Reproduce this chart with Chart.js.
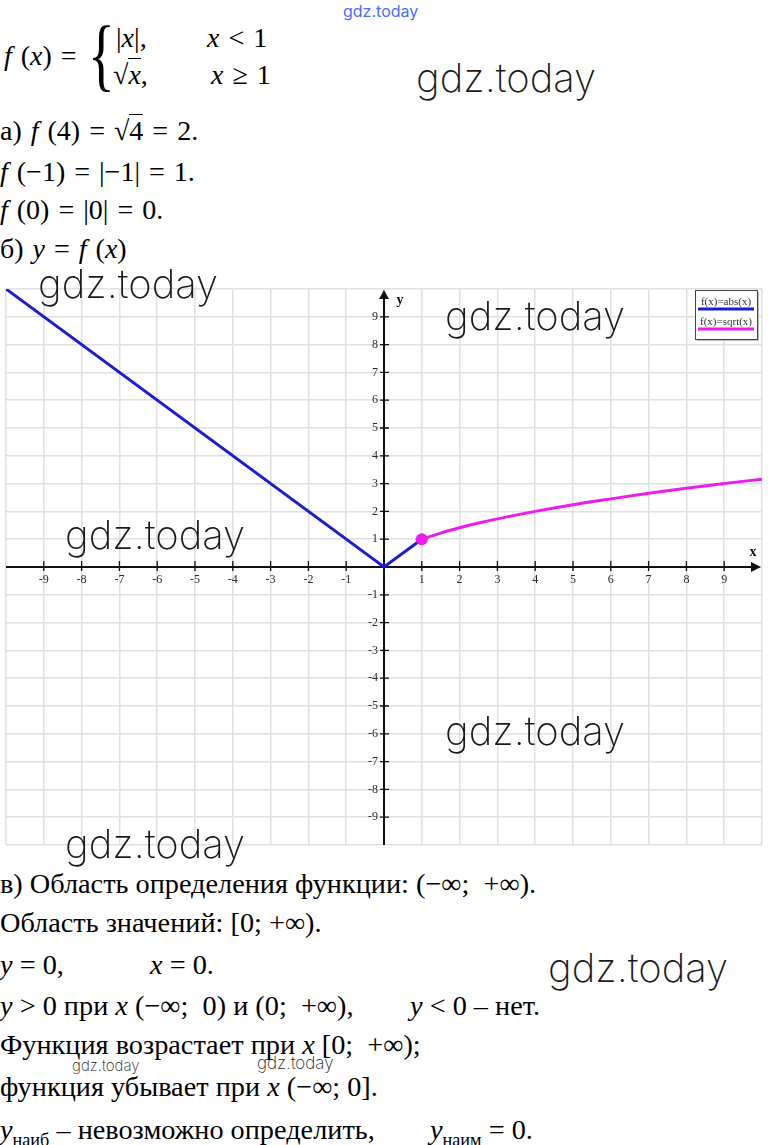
<!DOCTYPE html>
<html>
<head>
<meta charset="utf-8">
<script src="https://cdn.jsdelivr.net/npm/chart.js@4"></script>
<style>
  html, body { margin: 0; padding: 0; background: #fff; }
  body { width: 768px; height: 1145px; position: relative; overflow: hidden; }
  .m { position: absolute; font-family: "Liberation Serif", "Times New Roman", serif; font-size: 28px; line-height: 28px; white-space: pre; color: #000; word-spacing: 2px; }
  .b { position: absolute; font-family: "Liberation Serif", "Times New Roman", serif; font-size: 28px; line-height: 28px; white-space: pre; color: #000; transform-origin: 0 0; transform: scaleX(1.01); }
  .wm { position: absolute; font-family: Inter, Lato, "DejaVu Sans", sans-serif; font-weight: 200; font-size: 40px; line-height: 40px; color: #1a1a1a; white-space: pre; }
  .rt { border-top: 1.5px solid #000; }
  i { font-style: italic; }
  #wrap { position: absolute; left: 0; top: 283px; width: 768px; height: 568px; }
</style>
</head>
<body>

<div class="wm" style="left:343px;top:3px;font-size:16px;line-height:16px;color:#4a6cff;font-weight:400">gdz.today</div>

<div class="m" style="left:4px;top:42px"><i>f</i> (<i>x</i>) =</div>
<div class="m" style="left:88px;top:14px;font-size:80px;line-height:80px;transform:scaleX(0.7);transform-origin:0 0">{</div>
<div class="m" style="left:116px;top:24px">|<i>x</i>|,</div>
<div class="m" style="left:207px;top:24px"><i>x</i> &lt; 1</div>
<div class="m" style="left:113px;top:61px">√<span class="rt"><i>x</i></span>,</div>
<div class="m" style="left:211px;top:61px"><i>x</i> ≥ 1</div>

<div class="m" style="left:0px;top:117px">а) <i>f</i> (4) = √<span class="rt">4</span> = 2.</div>
<div class="m" style="left:0px;top:158px"><i>f</i> (−1) = |−1| = 1.</div>
<div class="m" style="left:0px;top:196px"><i>f</i> (0) = |0| = 0.</div>
<div class="m" style="left:0px;top:235px">б) <i>y</i> = <i>f</i> (<i>x</i>)</div>

<div id="wrap"><canvas id="graphChart" width="768" height="568"></canvas></div>

<div class="b" style="left:0px;top:870px">в) Область определения функции: (−∞;  +∞).</div>
<div class="b" style="left:0px;top:909px">Область значений: [0; +∞).</div>
<div class="b" style="left:0px;top:951px"><i>y</i> = 0,</div>
<div class="b" style="left:150px;top:951px"><i>x</i> = 0.</div>
<div class="b" style="left:0px;top:992px"><i>y</i> &gt; 0 при <i>x</i> (−∞;  0) и (0;  +∞),</div>
<div class="b" style="left:410px;top:992px"><i>y</i> &lt; 0 – нет.</div>
<div class="b" style="left:0px;top:1031px">Функция возрастает при <i>x</i> [0;  +∞);</div>
<div class="b" style="left:0px;top:1073px">функция убывает при <i>x</i> (−∞; 0].</div>
<div class="b" style="left:0px;top:1116px"><i>y</i><sub style="font-size:18px;line-height:0">наиб</sub> – невозможно определить,</div>
<div class="b" style="left:430px;top:1116px"><i>y</i><sub style="font-size:18px;line-height:0">наим</sub> = 0.</div>

<div class="wm" style="left:416px;top:58px">gdz.today</div>
<div class="wm" style="left:38px;top:264px">gdz.today</div>
<div class="wm" style="left:445px;top:296px">gdz.today</div>
<div class="wm" style="left:65px;top:515px">gdz.today</div>
<div class="wm" style="left:445px;top:711px">gdz.today</div>
<div class="wm" style="left:65px;top:824px">gdz.today</div>
<div class="wm" style="left:548px;top:948px">gdz.today</div>
<div class="wm" style="left:72px;top:1058px;font-size:15px;line-height:15px">gdz.today</div>
<div class="wm" style="left:257px;top:1055px;font-size:17px;line-height:17px">gdz.today</div>

<script>
// f(x) = |x| for x < 1, sqrt(x) for x >= 1
const absX = [-10, 0, 1];
const absY = [10, 0, 1];
const sqrtX = [1, 1.5, 2, 2.5, 3, 4, 5, 6, 7, 8, 9, 10];
const sqrtY = [1, 1.22, 1.41, 1.58, 1.73, 2, 2.24, 2.45, 2.65, 2.83, 3, 3.16];
const xTickVals = [-9, -8, -7, -6, -5, -4, -3, -2, -1, 1, 2, 3, 4, 5, 6, 7, 8, 9];
const yTickVals = [-9, -8, -7, -6, -5, -4, -3, -2, -1, 1, 2, 3, 4, 5, 6, 7, 8, 9];
const seriesNames = ['f(x)=abs(x)', 'f(x)=sqrt(x)'];

const toPoints = (xs, ys) => xs.map((v, i) => ({ x: v, y: ys[i] }));

// axes through the origin, drawn with the chart's own scales
const axesPlugin = {
    id: 'centerAxes',
    beforeDatasetsDraw(chart) {
        const { ctx, chartArea: a } = chart;
        const sx = chart.scales.x, sy = chart.scales.y;
        const x0 = sx.getPixelForValue(0), y0 = sy.getPixelForValue(0);
        ctx.save();
        ctx.strokeStyle = '#111';
        ctx.fillStyle = '#111';
        ctx.lineWidth = 2;
        ctx.beginPath();
        ctx.moveTo(a.left, y0); ctx.lineTo(a.right - 4, y0);
        ctx.moveTo(x0, a.bottom); ctx.lineTo(x0, a.top + 4);
        ctx.stroke();
        // arrows
        ctx.beginPath();
        ctx.moveTo(a.right - 1, y0); ctx.lineTo(a.right - 11, y0 - 5); ctx.lineTo(a.right - 11, y0 + 5);
        ctx.closePath(); ctx.fill();
        ctx.beginPath();
        ctx.moveTo(x0, a.top + 1); ctx.lineTo(x0 - 5, a.top + 10); ctx.lineTo(x0 + 5, a.top + 10);
        ctx.closePath(); ctx.fill();
        // tick marks
        ctx.lineWidth = 1.3;
        ctx.beginPath();
        xTickVals.forEach(v => {
            const px = sx.getPixelForValue(v);
            ctx.moveTo(px, y0 - 6); ctx.lineTo(px, y0 + 4);
        });
        yTickVals.forEach(v => {
            const py = sy.getPixelForValue(v);
            ctx.moveTo(x0 - 4, py); ctx.lineTo(x0 + 5, py);
        });
        ctx.stroke();
        // tick labels
        ctx.fillStyle = '#2a2a2a';
        ctx.font = '12px "Liberation Serif"';
        ctx.textAlign = 'center';
        ctx.textBaseline = 'middle';
        xTickVals.forEach(v => ctx.fillText(String(v), sx.getPixelForValue(v), y0 + 13));
        ctx.textAlign = 'right';
        yTickVals.forEach(v => ctx.fillText(String(v), x0 - 6, sy.getPixelForValue(v)));
        // axis names
        ctx.fillStyle = '#111';
        ctx.font = 'bold 14px "Liberation Serif"';
        ctx.textAlign = 'center';
        ctx.fillText('x', a.right - 9, y0 - 15);
        ctx.fillText('y', x0 + 16, a.top + 11);
        ctx.restore();
    },
    afterDraw(chart) {
        const { ctx, chartArea: a } = chart;
        const ds = chart.data.datasets;
        const bx = a.right - 67, by = a.top + 1, bw = 62, bh = 49;
        ctx.save();
        ctx.fillStyle = '#bbb';
        ctx.fillRect(bx + 2, by + 2, bw, bh);
        ctx.fillStyle = '#fff';
        ctx.fillRect(bx, by, bw, bh);
        ctx.strokeStyle = '#444';
        ctx.lineWidth = 1;
        ctx.strokeRect(bx + 0.5, by + 0.5, bw, bh);
        ctx.font = '11px "Liberation Serif"';
        ctx.textAlign = 'center';
        ctx.textBaseline = 'middle';
        ds.forEach((d, i) => {
            const ty = by + 12 + i * 20;
            ctx.fillStyle = '#333';
            ctx.fillText(d.label, bx + bw / 2, ty);
            ctx.strokeStyle = d.borderColor;
            ctx.lineWidth = 3;
            ctx.beginPath();
            ctx.moveTo(bx + 3, ty + 7); ctx.lineTo(bx + bw - 3, ty + 7);
            ctx.stroke();
        });
        ctx.restore();
    }
};

const ctx = document.getElementById('graphChart').getContext('2d');

const graphChart = new Chart(ctx, {
    type: 'line',
    data: {
        datasets: [{
            label: seriesNames[0],
            data: toPoints(absX, absY),
            borderColor: '#1c1cd4',
            borderWidth: 3,
            pointRadius: 0,
            tension: 0,
            order: 2
        }, {
            label: seriesNames[1],
            data: toPoints(sqrtX, sqrtY),
            borderColor: '#ec1cec',
            backgroundColor: '#ec1cec',
            borderWidth: 3,
            pointRadius: c => c.dataIndex === 0 ? 6 : 0,
            pointBorderWidth: 0,
            cubicInterpolationMode: 'monotone',
            order: 1
        }]
    },
    options: {
        responsive: false,
        animation: false,
        layout: { padding: 0 },
        plugins: {
            legend: { display: false },
            tooltip: { enabled: false }
        },
        scales: {
            x: {
                type: 'linear',
                min: -10,
                max: 10,
                ticks: { display: false, stepSize: 1 },
                grid: { color: '#e0e0e0', lineWidth: 1.5, drawTicks: false },
                border: { display: false }
            },
            y: {
                type: 'linear',
                min: -10,
                max: 10,
                ticks: { display: false, stepSize: 1 },
                grid: { color: '#e0e0e0', lineWidth: 1.5, drawTicks: false },
                border: { display: false }
            }
        }
    },
    plugins: [axesPlugin]
});
</script>
</body>
</html>
